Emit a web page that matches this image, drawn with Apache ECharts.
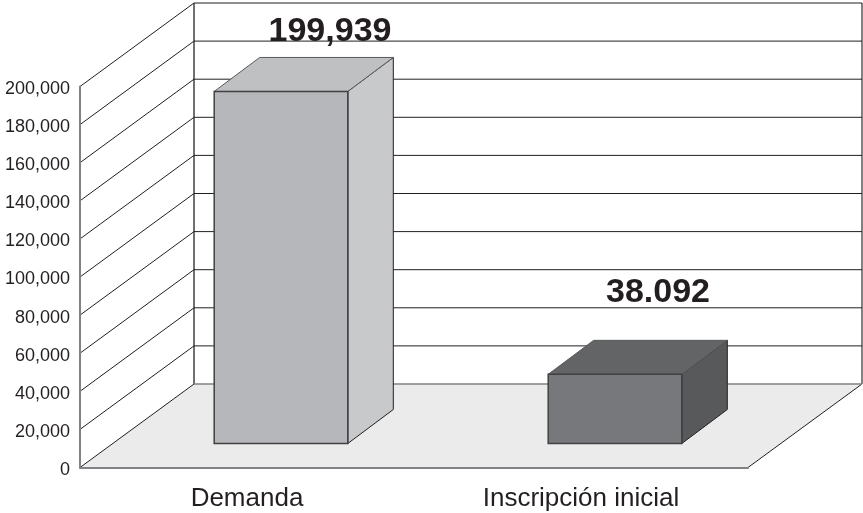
<!DOCTYPE html>
<html>
<head>
<meta charset="utf-8">
<style>
  html, body { margin: 0; padding: 0; background: #fff; }
  #chart { width: 863px; height: 513px; }
</style>
<script src="https://cdn.jsdelivr.net/npm/echarts@6/dist/echarts.min.js"></script>
</head>
<body>
<div id="chart"></div>
<script>
const categories = ['Demanda', 'Inscripción inicial'];
// bar heights as read against the axis (front face of each box)
const barValues = [184800, 36300];
const barLabels = ['199,939', '38.092'];
const yTicks = [0, 20000, 40000, 60000, 80000, 100000, 120000, 140000, 160000, 180000, 200000];

// fake 3D: how far the back wall and the boxes sit behind the axis plane
const WALL_DX = 114, WALL_DY = -83.5;
const BAR_SHIFT_X = 34, BAR_SHIFT_Y = -24;
const BAR_DX = 45.5, BAR_DY = -34;
const LABEL_SHIFT = [[49, -26], [43, -48]];
const barColors = [
  { front: '#b6b7ba', side: '#c8c9cb', top: '#bfc0c2' },
  { front: '#77787b', side: '#58595b', top: '#636466' }
];
const LINE = '#231f20';

const chart = echarts.init(document.getElementById('chart'), null, { renderer: 'canvas' });

const poly = (points, fill, stroke, width) => ({
  type: 'polygon',
  shape: { points },
  style: { fill, stroke: stroke || null, lineWidth: width || 0 }
});
const line = (x1, y1, x2, y2, stroke, width) => ({
  type: 'line',
  shape: { x1, y1, x2, y2 },
  style: { stroke, lineWidth: width || 1 }
});

const renderFloor = (params, api) => {
  const c = params.coordSys;
  const bottom = c.y + c.height, right = c.x + c.width;
  const top = c.y + WALL_DY;
  return {
    type: 'group',
    children: [
      poly([[c.x, bottom], [c.x + WALL_DX, bottom + WALL_DY], [right + WALL_DX, bottom + WALL_DY], [right, bottom]], '#ebebeb'),
      line(c.x, bottom, c.x + WALL_DX, bottom + WALL_DY, LINE),
      line(right, bottom, right + WALL_DX, bottom + WALL_DY, LINE),
      line(c.x + WALL_DX, top, c.x + WALL_DX, bottom + WALL_DY, '#414042', 1.5),
      line(right + WALL_DX, top, right + WALL_DX, bottom + WALL_DY, '#808285', 2)
    ]
  };
};

const renderGridLine = (params, api) => {
  const c = params.coordSys;
  const p = api.coord([0, api.value(0)]);
  const y = p[1];
  const x0 = c.x;
  const grey = api.value(0) === 0;
  const children = [
    line(x0 + WALL_DX, y + WALL_DY, x0 + c.width + WALL_DX, y + WALL_DY, grey ? '#808285' : LINE, grey ? 1.5 : 1)
  ];
  if (!grey) children.push(line(x0, y, x0 + WALL_DX, y + WALL_DY, LINE));
  return { type: 'group', children };
};

const renderBox = (params, api) => {
  const i = api.value(0);
  const topP = api.coord([i, api.value(1)]);
  const baseP = api.coord([i, 0]);
  const w = api.size([1, 0])[0] * 0.4;
  const l = topP[0] - w / 2 + BAR_SHIFT_X, r = l + w;
  const t = topP[1] + BAR_SHIFT_Y, b = baseP[1] + BAR_SHIFT_Y;
  const col = barColors[i];
  return {
    type: 'group',
    children: [
      poly([[r, t], [r + BAR_DX, t + BAR_DY], [r + BAR_DX, b + BAR_DY], [r, b]], col.side, LINE, 1),
      poly([[l, t], [l + BAR_DX, t + BAR_DY], [r + BAR_DX, t + BAR_DY], [r, t]], col.top, '#58595b', 1),
      poly([[l, t], [r, t], [r, b], [l, b]], col.front, '#414042', 1.5),
      {
        type: 'text',
        z2: 10,
        style: {
          x: (l + r) / 2 + LABEL_SHIFT[i][0],
          y: t + BAR_DY + LABEL_SHIFT[i][1],
          text: barLabels[i],
          fill: LINE,
          font: 'bold 34px "Liberation Sans", Arial, sans-serif',
          align: 'center',
          verticalAlign: 'middle'
        }
      }
    ]
  };
};

const option = {
  animation: false,
  backgroundColor: '#fff',
  grid: { left: 80, top: 86.5, width: 668, height: 381 },
  xAxis: {
    type: 'category',
    data: categories,
    z: 3,
    axisTick: { show: false },
    axisLine: { lineStyle: { color: '#808285', width: 2 } },
    axisLabel: {
      color: LINE,
      fontFamily: '"Liberation Sans", Arial, sans-serif',
      fontSize: 26,
      margin: 18
    }
  },
  yAxis: {
    type: 'value',
    min: 0,
    max: 200000,
    interval: 20000,
    z: 3,
    axisTick: { show: false },
    splitLine: { show: false },
    axisLine: { show: true, lineStyle: { color: '#808285', width: 2 } },
    axisLabel: {
      margin: 10,
      formatter: v => '{t|' + v.toLocaleString('en-US') + '}',
      rich: {
        t: {
          color: LINE,
          fontFamily: '"Liberation Sans", Arial, sans-serif',
          fontSize: 18,
          padding: [5, 0, 0, 0]
        }
      }
    }
  },
  series: [
    { type: 'custom', z: 1, clip: false, silent: true, renderItem: renderFloor, data: [[0]] },
    { type: 'custom', z: 2, clip: false, silent: true, renderItem: renderGridLine, encode: { y: 0 }, data: yTicks.map(v => [v]) },
    {
      type: 'custom',
      z: 4,
      clip: false,
      silent: true,
      renderItem: renderBox,
      encode: { x: 0, y: 1 },
      data: barValues.map((v, i) => [i, v])
    }
  ]
};

chart.setOption(option);
</script>
</body>
</html>
